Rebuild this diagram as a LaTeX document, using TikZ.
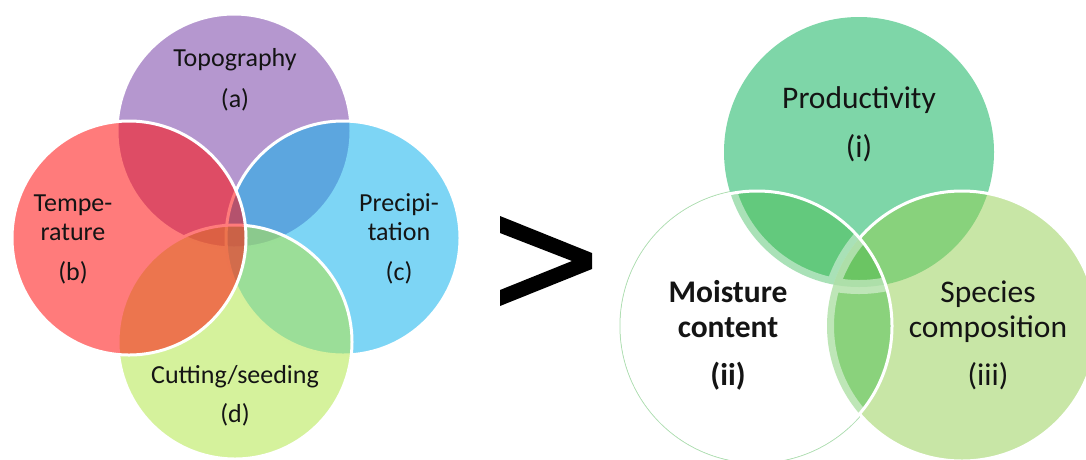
\documentclass[tikz,border=0pt]{standalone}
\usepackage{fontspec}
\setmainfont{Carlito}

\definecolor{topoc}{RGB}{120,66,168}
\definecolor{precc}{RGB}{19,179,237}
\definecolor{cutc}{RGB}{179,231,75}
\definecolor{tempc}{RGB}{255,15,15}
\definecolor{prodc}{RGB}{126,214,168}
\definecolor{specc}{RGB}{200,230,166}
\definecolor{pmc}{RGB}{99,201,125}
\definecolor{psc}{RGB}{136,210,124}
\definecolor{msc}{RGB}{138,210,124}
\definecolor{pmsc}{RGB}{107,197,99}
\definecolor{rimc}{RGB}{175,222,178}
\definecolor{txtc}{RGB}{20,20,20}

\begin{document}
\begin{tikzpicture}[
  x=1pt,y=-1pt,
  venn/.style={fill=#1,fill opacity=.55,draw=white,line width=3pt},
  lbl/.style={text=txtc,align=center,inner sep=0pt,anchor=base,font=\fontsize{26}{29}\selectfont},
  biglbl/.style={lbl,font=\fontsize{31.5}{35}\selectfont}
]
\useasboundingbox (0,0) rectangle (1086,459);
\clip (0,0) rectangle (1086,459);

% drivers
\coordinate (topoC) at (234,131);
\coordinate (precC) at (343,238);
\coordinate (cutC) at (235,342);
\coordinate (tempC) at (129,238);
\path[venn=topoc] (topoC) circle[radius=117pt];
\path[venn=precc] (precC) circle[radius=117pt];
\path[venn=cutc] (cutC) circle[radius=117pt];
\path[venn=tempc] (tempC) circle[radius=117pt];

\node[lbl] (topo) at (235,107) {Topography\\[12pt](a)};
\node[lbl] (temp) at (73,280) {Tempe-\\rature\\[11pt](b)};
\node[lbl] (prec) at (399,280) {Precipi-\\tation\\[11pt](c)};
\node[lbl] (cut) at (235,422) {Cutting/seeding\\[10pt](d)};

\fill[black] (500,216) -- (592,253) -- (592,269) -- (500,306) -- (500,290)
  -- (572,261) -- (500,233) -- cycle;

% responses
\def\rr{135pt}
\coordinate (prodC) at (859,152);
\coordinate (moistC) at (757,326);
\coordinate (specC) at (962,326);
\draw[rimc,line width=1pt] (moistC) circle[radius=137pt];
\fill[prodc] (prodC) circle[radius=\rr];
\fill[specc] (specC) circle[radius=\rr];
\begin{scope}
  \clip (prodC) circle[radius=\rr];
  \fill[psc] (specC) circle[radius=\rr];
\end{scope}
\draw[white,line width=3pt] (specC) circle[radius=\rr];
\begin{scope}
  \clip (moistC) circle[radius=\rr];
  \fill[white] (moistC) circle[radius=\rr];
  \fill[pmc] (prodC) circle[radius=\rr];
  \fill[msc] (specC) circle[radius=\rr];
  \begin{scope}
    \clip (prodC) circle[radius=\rr];
    \fill[pmsc] (specC) circle[radius=\rr];
  \end{scope}
  \draw[white,opacity=.45,line width=14pt] (prodC) circle[radius=\rr] (specC) circle[radius=\rr];
\end{scope}
\draw[white,line width=3pt] (moistC) circle[radius=\rr];

\node[biglbl] (prod) at (859,157) {Productivity\\[14pt](i)};
\node[biglbl,font=\fontsize{31.5}{35}\selectfont\bfseries] (moist) at (728,385) {Moisture\\content\\[13pt](ii)};
\node[biglbl] (spec) at (988,385) {Species\\composition\\[13pt](iii)};
\end{tikzpicture}
\end{document}
